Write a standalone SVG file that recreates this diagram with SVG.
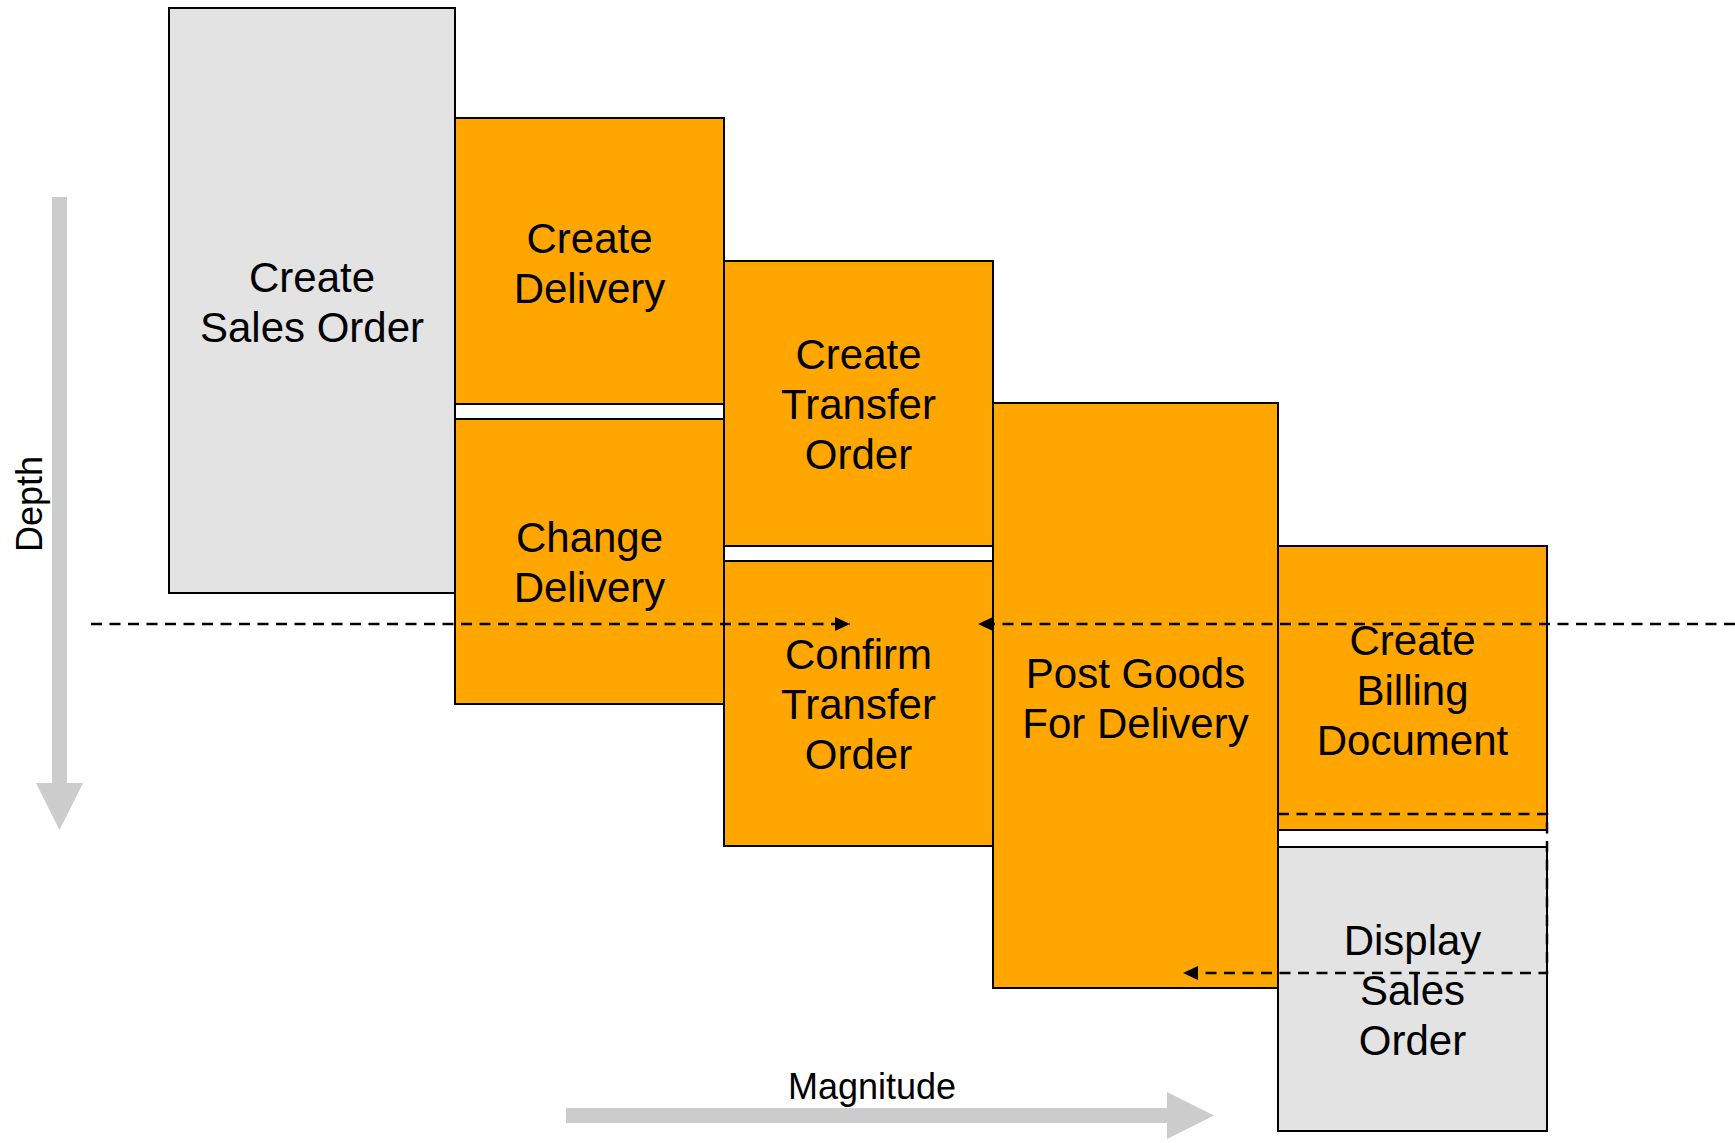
<svg xmlns="http://www.w3.org/2000/svg" width="1735" height="1143" viewBox="0 0 1735 1143">
  <style>
    .box { stroke: #000; stroke-width: 2; }
    .orange { fill: #FFA600; }
    .grey { fill: #E3E3E3; }
    .lbl { font-family: "Liberation Sans", Arial, sans-serif; font-size: 42px; fill: #000; text-anchor: middle; }
    .axis { fill: #CCCCCC; }
    .axislbl { font-family: "Liberation Sans", Arial, sans-serif; font-size: 36px; fill: #000; text-anchor: middle; }
    .flow { fill: none; stroke: #000; stroke-width: 2.5; stroke-dasharray: 11 7.5; }
  </style>
  <defs>
    <marker id="head" markerUnits="userSpaceOnUse" markerWidth="16" markerHeight="14" refX="15" refY="7" orient="auto">
      <path d="M0,0 L15,7 L0,14 Z" fill="#000"/>
    </marker>
  </defs>

  <!-- axes -->
  <g id="depth-axis">
    <polygon class="axis" points="52,197 67,197 67,783 83,783 59.5,830 36,783 52,783"/>
    <text class="axislbl" transform="translate(42,504) rotate(-90)">Depth</text>
  </g>
  <g id="magnitude-axis">
    <polygon class="axis" points="566,1108 1167,1108 1167,1092 1214,1115.5 1167,1139 1167,1123 566,1123"/>
    <text class="axislbl" x="872" y="1099">Magnitude</text>
  </g>

  <!-- process steps -->
  <g id="create-sales-order">
    <rect class="box grey" x="169" y="8" width="286" height="585"/>
    <text class="lbl" x="312"><tspan x="312" y="292">Create</tspan><tspan x="312" y="342">Sales Order</tspan></text>
  </g>
  <g id="create-delivery">
    <rect class="box orange" x="455" y="118" width="269" height="286"/>
    <text class="lbl"><tspan x="589.5" y="253">Create</tspan><tspan x="589.5" y="303">Delivery</tspan></text>
  </g>
  <g id="change-delivery">
    <rect class="box orange" x="455" y="419" width="269" height="285"/>
    <text class="lbl"><tspan x="589.5" y="552">Change</tspan><tspan x="589.5" y="602">Delivery</tspan></text>
  </g>
  <g id="create-transfer-order">
    <rect class="box orange" x="724" y="261" width="269" height="285"/>
    <text class="lbl"><tspan x="858.5" y="369">Create</tspan><tspan x="858.5" y="419">Transfer</tspan><tspan x="858.5" y="469">Order</tspan></text>
  </g>
  <g id="confirm-transfer-order">
    <rect class="box orange" x="724" y="561" width="269" height="285"/>
    <text class="lbl"><tspan x="858.5" y="669">Confirm</tspan><tspan x="858.5" y="719">Transfer</tspan><tspan x="858.5" y="769">Order</tspan></text>
  </g>
  <g id="post-goods">
    <rect class="box orange" x="993" y="403" width="285" height="585"/>
    <text class="lbl"><tspan x="1135.5" y="688">Post Goods</tspan><tspan x="1135.5" y="738">For Delivery</tspan></text>
  </g>
  <g id="create-billing-document">
    <rect class="box orange" x="1278" y="546" width="269" height="284"/>
    <text class="lbl"><tspan x="1412.5" y="655">Create</tspan><tspan x="1412.5" y="705">Billing</tspan><tspan x="1412.5" y="755">Document</tspan></text>
  </g>
  <g id="display-sales-order">
    <rect class="box grey" x="1278" y="847" width="269" height="284"/>
    <text class="lbl"><tspan x="1412.5" y="955">Display</tspan><tspan x="1412.5" y="1005">Sales</tspan><tspan x="1412.5" y="1055">Order</tspan></text>
  </g>

  <!-- dashed flow lines -->
  <g id="connectors">
    <path class="flow" d="M91,624 L850,624" marker-end="url(#head)"/>
    <path class="flow" d="M1735,624 L978,624" marker-end="url(#head)"/>
    <path class="flow" d="M1278,814 L1547,814 L1547,973 L1183,973" marker-end="url(#head)"/>
  </g>
</svg>
